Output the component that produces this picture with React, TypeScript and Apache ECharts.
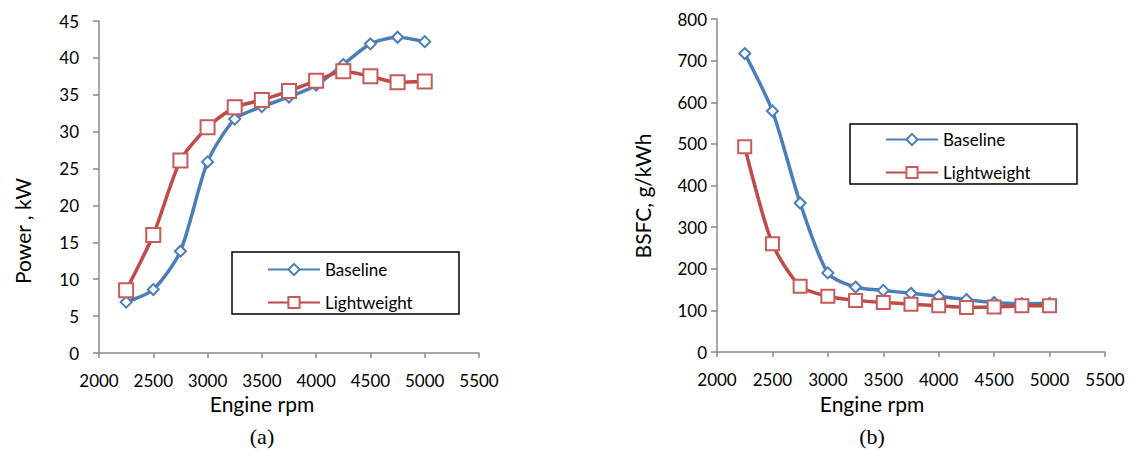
import React, { useEffect, useRef } from "react";
import * as echarts from "echarts";

const rpm = [2250, 2500, 2750, 3000, 3250, 3500, 3750, 4000, 4250, 4500, 4750, 5000];
const powerBaseline = [6.9, 8.6, 13.8, 25.9, 31.7, 33.4, 34.7, 36.3, 39.1, 41.9, 42.8, 42.2];
const powerLightweight = [8.5, 16.0, 26.1, 30.6, 33.3, 34.3, 35.5, 36.9, 38.2, 37.5, 36.7, 36.8];
const bsfcBaseline = [717, 579, 358, 190, 156, 148, 141, 134, 126, 119, 116, 117];
const bsfcLightweight = [493, 260, 158, 134, 124, 119, 115, 111, 107, 108, 111, 111];
const seriesNames = ["Baseline", "Lightweight"];

const BLUE = "#4a7ebb";
const RED = "#be4b48";
const AXIS = "#8a8a8a";
const FONT = "Lato";

const pairs = (ys: number[]) => rpm.map((x, i) => [x, ys[i]]);

export default function App() {
  const ref = useRef<HTMLDivElement>(null);
  useEffect(() => {
    if (!ref.current) return;
    const chart = echarts.init(ref.current, null, { renderer: "svg" });
    const xAxisBase = {
      type: "value",
      min: 2000,
      max: 5500,
      interval: 500,
      axisLine: { show: true, onZero: false, lineStyle: { color: AXIS, width: 1.5 } },
      axisTick: { show: true, length: 5, lineStyle: { color: AXIS, width: 1.5 } },
      axisLabel: { color: "#000", fontSize: 17, fontFamily: FONT, margin: 19, formatter: (v: number) => String(v) },
      splitLine: { show: false },
    };
    const yAxisBase = {
      type: "value",
      axisLine: { show: true, lineStyle: { color: AXIS, width: 1.5 } },
      axisTick: { show: true, length: 6, lineStyle: { color: AXIS, width: 1.5 } },
      splitLine: { show: false },
    };
    const mk = (name: string, ys: number[], idx: number, isBlue: boolean, size: number) => ({
      name,
      type: "line",
      xAxisIndex: idx,
      yAxisIndex: idx,
      data: pairs(ys),
      smooth: 0.25,
      symbol: isBlue ? "diamond" : "rect",
      symbolSize: size,
      lineStyle: { color: isBlue ? BLUE : RED, width: 3.5 },
      itemStyle: { color: "#fff", borderColor: isBlue ? BLUE : "#c85a57", borderWidth: 2 },
      z: isBlue ? 2 : 3,
    });
    const legendBase = {
      orient: "vertical",
      itemWidth: 52,
      itemHeight: 14,
      itemGap: 16,
      padding: 0,
      data: seriesNames,
      textStyle: { color: "#000", fontSize: 17, fontFamily: FONT },
      selectedMode: false,
    };
    chart.setOption({
      animation: false,
      grid: [
        { left: 99, top: 21, width: 380, height: 332 },
        { left: 717, top: 19, width: 388, height: 333 },
      ],
      xAxis: [
        { ...xAxisBase, gridIndex: 0 },
        { ...xAxisBase, gridIndex: 1 },
      ],
      yAxis: [
        {
          ...yAxisBase,
          gridIndex: 0,
          min: 0,
          max: 45,
          interval: 5,
          axisLabel: { color: "#000", fontSize: 17, fontFamily: FONT, margin: 20 },
        },
        {
          ...yAxisBase,
          gridIndex: 1,
          min: 0,
          max: 800,
          interval: 100,
          axisLabel: { color: "#000", fontSize: 17, fontFamily: FONT, margin: 10 },
        },
      ],
      legend: [
        { ...legendBase, left: 267, top: 261 },
        { ...legendBase, left: 885, top: 131 },
      ],
      graphic: [
        { type: "rect", shape: { x: 232, y: 252, width: 227, height: 62 }, style: { fill: "none", stroke: "#000", lineWidth: 1.5 } },
        { type: "rect", shape: { x: 850, y: 124, width: 227, height: 60 }, style: { fill: "none", stroke: "#000", lineWidth: 1.5 } },
        { type: "text", x: 262, y: 403, style: { text: "Engine rpm", fontSize: 21, fontFamily: FONT, fill: "#000", align: "center", verticalAlign: "middle" } },
        { type: "text", x: 872, y: 403, style: { text: "Engine rpm", fontSize: 21, fontFamily: FONT, fill: "#000", align: "center", verticalAlign: "middle" } },
        { type: "text", x: 22, y: 231, rotation: Math.PI / 2, style: { text: "Power , kW", fontSize: 21, fontFamily: FONT, fill: "#000", align: "center", verticalAlign: "middle" } },
        { type: "text", x: 642, y: 196, rotation: Math.PI / 2, style: { text: "BSFC, g/kWh", fontSize: 21, fontFamily: FONT, fill: "#000", align: "center", verticalAlign: "middle" } },
        { type: "text", x: 262, y: 436, style: { text: "(a)", fontSize: 22, fontFamily: "Liberation Serif", fill: "#000", align: "center", verticalAlign: "middle" } },
        { type: "text", x: 872, y: 436, style: { text: "(b)", fontSize: 22, fontFamily: "Liberation Serif", fill: "#000", align: "center", verticalAlign: "middle" } },
      ],
      series: [
        mk("Baseline", powerBaseline, 0, true, 11),
        mk("Lightweight", powerLightweight, 0, false, 14),
        mk("Baseline", bsfcBaseline, 1, true, 11),
        mk("Lightweight", bsfcLightweight, 1, false, 13),
      ],
    });
    return () => chart.dispose();
  }, []);
  return (
    <div
      ref={ref}
      style={{ position: "absolute", left: 0, top: 0, width: 1131, height: 450, background: "#fff" }}
    />
  );
}
